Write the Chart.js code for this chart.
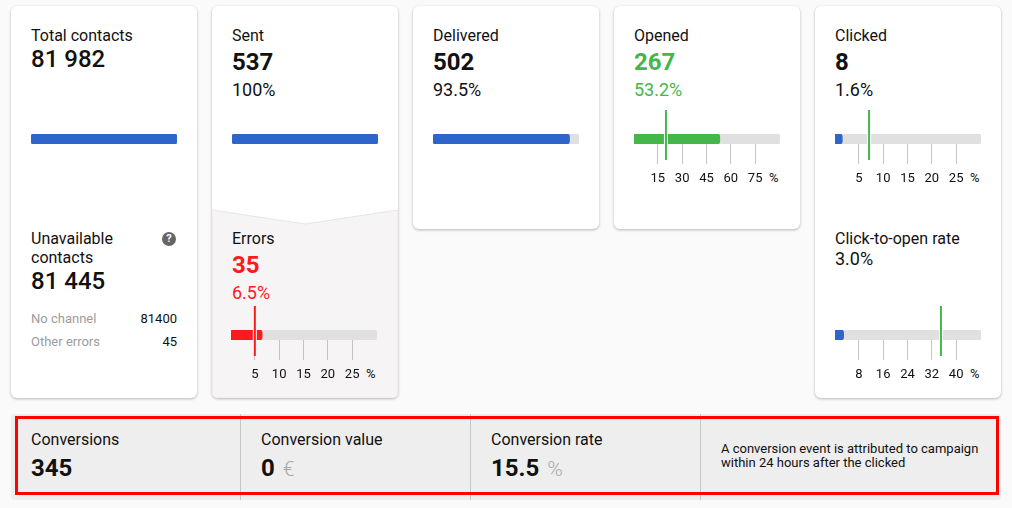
<!DOCTYPE html>
<html>

<head>
    <title>Campaign statistics</title>
    <script src="https://cdn.jsdelivr.net/npm/chart.js@4/dist/chart.umd.min.js"></script>
    <style>
        body { margin: 0; width: 1012px; height: 508px; overflow: hidden; background: #fafafa; font-family: Roboto, sans-serif; color: #111; position: relative; }
        .card { position: absolute; width: 186px; background: #fff; border-radius: 6px; box-shadow: 0 1px 3px rgba(0,0,0,.28); overflow: hidden; }
        .t { position: absolute; white-space: nowrap; }
        .name { font-size: 16px; line-height: 20px; }
        .num { font-size: 24px; line-height: 30px; font-weight: 700; }
        .num2 { font-size: 24px; line-height: 30px; font-weight: 500; }
        .pct { font-size: 18px; line-height: 22px; }
        .small { font-size: 13px; line-height: 16px; color: #9c9c9c; }
        .val { font-size: 13px; line-height: 16px; text-align: right; width: 60px; }
        .unit { font-size: 13px; line-height: 16px; }
        .bname { font-size: 16px; line-height: 20px; }
        .bunit { font-size: 21px; font-weight: 300; color: #aaa; margin-left: 2px; }
        canvas { position: absolute; }
        #strip { position: absolute; left: 11px; top: 414px; width: 990px; height: 86px; background: #eee; border-radius: 4px; }
        .div { position: absolute; top: 414px; height: 86px; width: 1px; background: #c6c6c6; }
        #frame { position: absolute; left: 15px; top: 416px; width: 978px; height: 73px; border: 3px solid #f00; }
    </style>
</head>

<body>
    <div class="card" style="left:11px; top:6px; height:392px"></div>
    <div class="card" style="left:212px; top:6px; height:392px">
        <svg style="position:absolute; left:0; top:0" width="186" height="392">
            <polygon points="0,204 93,218 186,204 186,392 0,392" fill="#f6f4f5" stroke="#e6e4e5" stroke-width="1"></polygon>
        </svg>
    </div>
    <div class="card" style="left:413px; top:6px; height:223px"></div>
    <div class="card" style="left:614px; top:6px; height:223px"></div>
    <div class="card" style="left:815px; top:6px; height:392px"></div>

    <div class="t name" style="left:31px; top:26px">Total contacts</div>
    <div class="t num2" style="left:31px; top:44px">81 982</div>
    <div class="t name" style="left:31px; top:229px; line-height:19px">Unavailable<br>contacts</div>
    <div class="t" style="left:162px; top:232px; width:14px; height:14px; border-radius:7px; background:#666; color:#fff; font-size:11px; line-height:14px; font-weight:700; text-align:center">?</div>
    <div class="t num2" style="left:31px; top:266px">81 445</div>
    <div class="t small" style="left:31px; top:311px">No channel</div>
    <div class="t val" style="left:117px; top:311px">81400</div>
    <div class="t small" style="left:31px; top:334px">Other errors</div>
    <div class="t val" style="left:117px; top:334px">45</div>

    <div class="t name" style="left:232px; top:26px">Sent</div>
    <div class="t num" style="left:232px; top:47px">537</div>
    <div class="t pct" style="left:232px; top:79px">100%</div>
    <div class="t name" style="left:232px; top:229px">Errors</div>
    <div class="t num" style="left:232px; top:250px; color:#ff1a1a">35</div>
    <div class="t pct" style="left:232px; top:282px; color:#ff1a1a">6.5%</div>

    <div class="t name" style="left:433px; top:26px">Delivered</div>
    <div class="t num" style="left:433px; top:47px">502</div>
    <div class="t pct" style="left:433px; top:79px">93.5%</div>

    <div class="t name" style="left:634px; top:26px">Opened</div>
    <div class="t num" style="left:634px; top:47px; color:#45b649">267</div>
    <div class="t pct" style="left:634px; top:79px; color:#45b649">53.2%</div>

    <div class="t name" style="left:835px; top:26px">Clicked</div>
    <div class="t num" style="left:835px; top:47px">8</div>
    <div class="t pct" style="left:835px; top:79px">1.6%</div>
    <div class="t name" style="left:835px; top:229px">Click-to-open rate</div>
    <div class="t pct" style="left:835px; top:248px">3.0%</div>

    <div class="t unit" style="left:769px; top:170px">%</div>
    <div class="t unit" style="left:970px; top:170px">%</div>
    <div class="t unit" style="left:366px; top:366px">%</div>
    <div class="t unit" style="left:970px; top:366px">%</div>

    <canvas id="c0"></canvas>
    <canvas id="c1"></canvas>
    <canvas id="c2"></canvas>
    <canvas id="c3"></canvas>
    <canvas id="c4"></canvas>
    <canvas id="c5"></canvas>
    <canvas id="c6"></canvas>

    <div id="strip"></div>
    <div class="div" style="left:240px"></div>
    <div class="div" style="left:470px"></div>
    <div class="div" style="left:700px"></div>
    <div class="t bname" style="left:31px; top:430px">Conversions</div>
    <div class="t num" style="left:31px; top:453px">345</div>
    <div class="t bname" style="left:261px; top:430px">Conversion value</div>
    <div class="t num" style="left:261px; top:453px">0 <span class="bunit">€</span></div>
    <div class="t bname" style="left:491px; top:430px">Conversion rate</div>
    <div class="t num" style="left:491px; top:453px">15.5 <span class="bunit">%</span></div>
    <div class="t" style="left:721px; top:442px; font-size:13px; line-height:14px">A conversion event is attributed to campaign<br>within 24 hours after the clicked</div>
    <div id="frame"></div>

    <script>
        const barNames = ['Total contacts', 'Sent', 'Delivered', 'Opened', 'Clicked', 'Errors', 'Click-to-open rate'];
        const barValues = [100, 100, 93.5, 53.2, 1.6, 6.5, 3.0];
        const barMaxes = [100, 100, 100, 90, 30, 30, 48];
        const barTargets = [null, null, null, 20, 7.1, 5, 35];
        const barTicks = [
            [],
            [],
            [],
            [15, 30, 45, 60, 75],
            [5, 10, 15, 20, 25],
            [5, 10, 15, 20, 25],
            [8, 16, 24, 32, 40]
        ];

        const BLUE = '#2d65cb', GREEN = '#45b649', RED = '#ff1a1a';
        const barColors = [BLUE, BLUE, BLUE, GREEN, BLUE, RED, BLUE];
        const targetColors = [null, null, null, GREEN, GREEN, RED, GREEN];
        const haloColors = [null, null, null, '#fff', '#fff', '#f6f4f5', '#fff'];
        // left edge of the plot and top of the bar, per chart
        const barLeft = [31, 232, 433, 634, 835, 231, 835];
        const barTop = [134, 134, 134, 134, 134, 330, 330];

        const PLOT_W = 146, BAR_H = 10, PAD_TOP = 30, AXIS_H = 40, PAD_X = 14;
        const TICK_SHIFT = 0.5; // ticks sit half a pixel left of the true scale

        barNames.forEach((name, i) => {
            const canvas = document.getElementById('c' + i);
            const hasTicks = barTicks[i].length > 0;
            const shift = hasTicks ? barMaxes[i] * TICK_SHIFT / PLOT_W : 0;
            canvas.style.left = (barLeft[i] - PAD_X) + 'px';
            canvas.style.top = (barTop[i] - PAD_TOP) + 'px';
            canvas.width = PLOT_W + PAD_X * 2;
            canvas.height = PAD_TOP + BAR_H + AXIS_H;

            const datasets = [
                { label: name, data: [barValues[i]], backgroundColor: barColors[i], order: 3 },
                { label: 'Scale', data: [barMaxes[i] + shift], backgroundColor: '#e0e0e0', order: 4 }
            ];
            if (barTargets[i] !== null) {
                // y runs 0..1 across the bar, so the target line can stick out of it
                datasets.push({
                    type: 'scatter', yAxisID: 'yM', showLine: true, pointRadius: 0, clip: false, order: 2,
                    borderColor: haloColors[i], borderWidth: 4,
                    data: [{ x: barTargets[i], y: 0 }, { x: barTargets[i], y: 1 }]
                });
                datasets.push({
                    type: 'scatter', yAxisID: 'yM', showLine: true, pointRadius: 0, clip: false, order: 1,
                    borderColor: targetColors[i], borderWidth: 2,
                    data: [{ x: barTargets[i], y: -1.6 }, { x: barTargets[i], y: 3.4 }]
                });
            }

            const xAxis = {
                type: 'linear',
                min: shift,
                max: barMaxes[i] + shift,
                display: hasTicks,
                border: { display: false },
                grid: { drawOnChartArea: false, drawTicks: true, tickLength: 20, color: '#c4c4c4' },
                ticks: { autoSkip: false, maxRotation: 0, padding: 7, color: '#111', font: { family: 'Roboto', size: 13 } }
            };
            if (hasTicks) {
                xAxis.afterBuildTicks = s => { s.ticks = barTicks[i].map(v => ({ value: v })); };
                xAxis.afterFit = s => { s.height = AXIS_H; };
            }

            new Chart(canvas, {
                type: 'bar',
                data: { labels: [name], datasets: datasets },
                options: {
                    indexAxis: 'y',
                    responsive: false,
                    animation: false,
                    layout: { padding: { left: PAD_X, right: PAD_X, top: PAD_TOP, bottom: hasTicks ? 0 : AXIS_H } },
                    datasets: { bar: { grouped: false, barPercentage: 1, categoryPercentage: 1, borderRadius: 3, borderSkipped: false } },
                    plugins: { legend: { display: false }, tooltip: { enabled: false } },
                    scales: {
                        x: xAxis,
                        y: { display: false },
                        // bar charts default the index axis to offset: true, which would squeeze this scale
                        yM: { type: 'linear', display: false, min: 0, max: 1, offset: false }
                    }
                }
            });
        });
    </script>
</body>

</html>
